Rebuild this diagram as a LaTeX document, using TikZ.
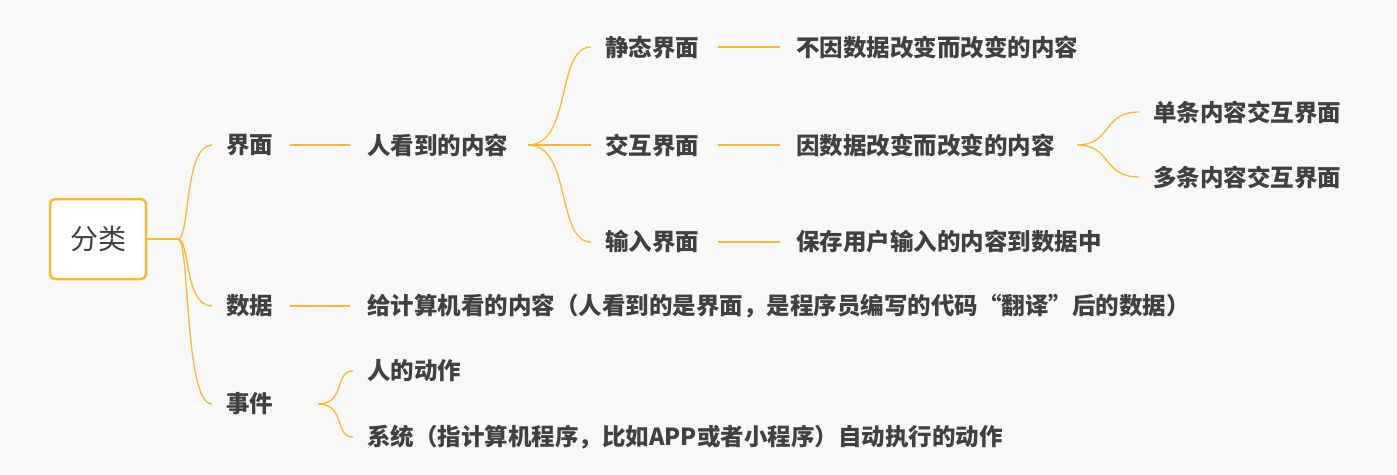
\documentclass[tikz,border=0pt]{standalone}
\usepackage{fontspec}
\setmainfont{Noto Sans CJK SC}
\begin{document}
\begin{tikzpicture}[x=1pt,y=-1pt,
  lbl/.style={anchor=west,inner sep=0pt,font=\bfseries\fontsize{23.5}{26}\selectfont,text=black!75},
  ln/.style={draw=linec,line width=1.3pt},
  br/.style={ln}]
\definecolor{linec}{HTML}{FDB92C}
\definecolor{bgc}{HTML}{F8F8F8}
\fill[bgc] (0,0) rectangle (1397,474);
\useasboundingbox (0,0) rectangle (1397,474);
\node[draw=linec,line width=2.5pt,fill=white,rounded corners=5pt,minimum width=96pt,minimum height=80pt,font=\fontsize{28}{30}\selectfont,text=black!75] (root) at (98,239) {分类};
\node[lbl] (jm) at (226,145) {界面};
\node[lbl] (sj) at (226,306) {数据};
\node[lbl] (shj) at (226,404) {事件};
\node[lbl] (rk) at (367,145) {人看到的内容};
\node[lbl] (jt) at (605,47) {静态界面};
\node[lbl] (jh) at (605,145) {交互界面};
\node[lbl] (sr) at (605,242) {输入界面};
\node[lbl] (bu) at (796,47) {不因数据改变而改变的内容};
\node[lbl] (yi) at (796,145) {因数据改变而改变的内容};
\node[lbl] (bc) at (796,242) {保存用户输入的内容到数据中};
\node[lbl] (dt) at (1153,112) {单条内容交互界面};
\node[lbl] (dd) at (1153,177) {多条内容交互界面};
\node[lbl] (gj) at (367,306) {给计算机看的内容（人看到的是界面，是程序员编写的代码“翻译”后的数据）};
\node[lbl] (rd) at (367,371) {人的动作};
\node[lbl] (xt) at (367,437) {系统（指计算机程序，比如APP或者小程序）自动执行的动作};
% root branches
\coordinate (r0) at (178,239);
\draw[ln] (root.east) -- (r0);
\foreach \n in {jm,sj,shj}{
  \draw[br] (r0) .. controls (190,239) and (184,0 |- \n.west) .. ([xshift=-14pt]\n.west);
}
% straight links
\draw[ln] ([xshift=64pt]jm.west) -- ([xshift=124pt]jm.west);
\draw[ln] ([xshift=64pt]sj.west) -- ([xshift=124pt]sj.west);
\foreach \a in {jt,jh,sr}{
  \draw[ln] ([xshift=113pt]\a.west) -- ([xshift=175pt]\a.west);
}
% 人看到的内容 branches
\coordinate (k0) at (528,145);
\foreach \n in {jt,jh,sr}{
  \draw[br] (k0) .. controls (572,145) and (556,0 |- \n.west) .. ([xshift=-14pt]\n.west);
}
% 因数据 branches
\coordinate (y0) at (1077,145);
\foreach \n in {dt,dd}{
  \draw[br] (y0) .. controls (1112,145) and (1102,0 |- \n.west) .. ([xshift=-14pt]\n.west);
}
% 事件 branches
\coordinate (e0) at (318,404);
\foreach \n in {rd,xt}{
  \draw[br] (e0) .. controls (346,404) and (334,0 |- \n.west) .. ([xshift=-14pt]\n.west);
}
\end{tikzpicture}
\end{document}
